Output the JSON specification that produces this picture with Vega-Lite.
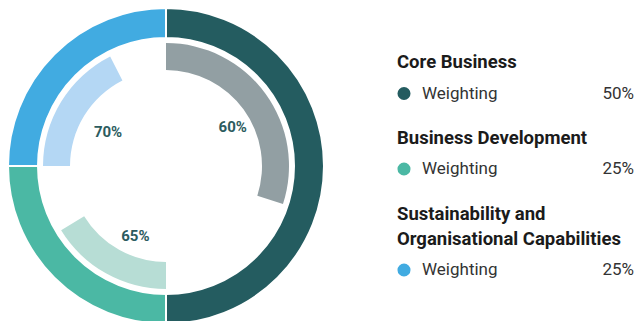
{
  "$schema": "https://vega.github.io/schema/vega-lite/v6.json",
  "padding": 0,
  "spacing": 0,
  "bounds": "flush",
  "config": {"font": "Roboto", "view": {"stroke": null}},
  "datasets": {
    "weights": [
      {"category": "Core Business", "label": "Core Business", "weighting": 0.5, "rank": 1},
      {"category": "Business Development", "label": "Business Development", "weighting": 0.25, "rank": 2},
      {"category": "Sustainability and Organisational Capabilities", "label": "Sustainability and\nOrganisational Capabilities", "weighting": 0.25, "rank": 3}
    ],
    "scores": [
      {"category": "Core Business", "part": "achieved", "share": 0.3, "score": 0.6, "rank": 1},
      {"category": "Core Business", "part": "remaining", "share": 0.2, "score": 0.6, "rank": 2},
      {"category": "Business Development", "part": "achieved", "share": 0.1625, "score": 0.65, "rank": 3},
      {"category": "Business Development", "part": "remaining", "share": 0.0875, "score": 0.65, "rank": 4},
      {"category": "Sustainability and Organisational Capabilities", "part": "achieved", "share": 0.175, "score": 0.7, "rank": 5},
      {"category": "Sustainability and Organisational Capabilities", "part": "remaining", "share": 0.075, "score": 0.7, "rank": 6}
    ]
  },
  "hconcat": [
    {
      "width": 332,
      "height": 332,
      "layer": [
        {
          "data": {"name": "weights"},
          "mark": {"type": "arc", "outerRadius": 158, "innerRadius": 128, "stroke": "#ffffff", "strokeWidth": 2},
          "encoding": {
            "theta": {"field": "weighting", "type": "quantitative", "stack": true},
            "order": {"field": "rank", "type": "quantitative"},
            "color": {"field": "category", "type": "nominal", "legend": null,
              "scale": {"domain": ["Core Business", "Business Development", "Sustainability and Organisational Capabilities"], "range": ["#245C60", "#4BB8A4", "#41ABE1"]}}
          }
        },
        {
          "data": {"name": "scores"},
          "mark": {"type": "arc", "outerRadius": 123, "innerRadius": 96},
          "encoding": {
            "theta": {"field": "share", "type": "quantitative", "stack": true},
            "order": {"field": "rank", "type": "quantitative"},
            "color": {"field": "category", "type": "nominal", "legend": null,
              "scale": {"domain": ["Core Business", "Business Development", "Sustainability and Organisational Capabilities"], "range": ["#929FA3", "#B7DDD5", "#B4D7F4"]}},
            "opacity": {"condition": {"test": "datum.part === 'remaining'", "value": 0}, "value": 1}
          }
        },
        {
          "data": {"name": "scores"},
          "mark": {"type": "text", "radius": 75, "dx": 6, "dy": 5, "fontSize": 15, "fontWeight": "bold", "fill": "#2C5C60"},
          "encoding": {
            "theta": {"field": "share", "type": "quantitative", "stack": true},
            "order": {"field": "rank", "type": "quantitative"},
            "text": {"condition": {"test": "datum.part === 'remaining'", "value": ""}, "field": "score", "type": "quantitative", "format": ".0%"}
          }
        }
      ],
      "resolve": {"scale": {"color": "independent"}}
    },
    {
      "spacing": 0,
      "bounds": "flush",
      "vconcat": [
        {
          "width": 303, "height": 107,
          "data": {"name": "weights"},
          "transform": [{"filter": "datum.rank === 1"}],
          "layer": [
            {"mark": {"type": "text", "align": "left", "baseline": "bottom", "dx": -86.5, "dy": 18, "fontSize": 18.5, "fontWeight": "bold", "fill": "#1b1b1b", "lineBreak": "\n", "lineHeight": 26},
             "encoding": {"text": {"field": "label"}}},
            {"mark": {"type": "point", "shape": "circle", "filled": true, "size": 170, "opacity": 1, "xOffset": -79.5, "yOffset": 40},
             "encoding": {"color": {"field": "category", "type": "nominal", "legend": null,
               "scale": {"domain": ["Core Business", "Business Development", "Sustainability and Organisational Capabilities"], "range": ["#245C60", "#4BB8A4", "#41ABE1"]}}}},
            {"mark": {"type": "text", "align": "left", "baseline": "middle", "dx": -61.5, "dy": 40, "fontSize": 17, "fill": "#333333", "text": "Weighting"},
             "encoding": {}},
            {"mark": {"type": "text", "align": "right", "baseline": "middle", "dx": 150.5, "dy": 40, "fontSize": 17, "fill": "#333333"},
             "encoding": {"text": {"field": "weighting", "type": "quantitative", "format": ".0%"}}}
          ]
        },
        {
          "width": 303, "height": 44,
          "data": {"name": "weights"},
          "transform": [{"filter": "datum.rank === 2"}],
          "layer": [
            {"mark": {"type": "text", "align": "left", "baseline": "bottom", "dx": -86.5, "dy": 19, "fontSize": 18.5, "fontWeight": "bold", "fill": "#1b1b1b", "lineBreak": "\n", "lineHeight": 26},
             "encoding": {"text": {"field": "label"}}},
            {"mark": {"type": "point", "shape": "circle", "filled": true, "size": 170, "opacity": 1, "xOffset": -79.5, "yOffset": 40},
             "encoding": {"color": {"field": "category", "type": "nominal", "legend": null,
               "scale": {"domain": ["Core Business", "Business Development", "Sustainability and Organisational Capabilities"], "range": ["#245C60", "#4BB8A4", "#41ABE1"]}}}},
            {"mark": {"type": "text", "align": "left", "baseline": "middle", "dx": -61.5, "dy": 40, "fontSize": 17, "fill": "#333333", "text": "Weighting"},
             "encoding": {}},
            {"mark": {"type": "text", "align": "right", "baseline": "middle", "dx": 150.5, "dy": 40, "fontSize": 17, "fill": "#333333"},
             "encoding": {"text": {"field": "weighting", "type": "quantitative", "format": ".0%"}}}
          ]
        },
        {
          "width": 303, "height": 158,
          "data": {"name": "weights"},
          "transform": [{"filter": "datum.rank === 3"}],
          "layer": [
            {"mark": {"type": "text", "align": "left", "baseline": "bottom", "dx": -86.5, "dy": -6, "fontSize": 18.5, "fontWeight": "bold", "fill": "#1b1b1b", "lineBreak": "\n", "lineHeight": 25},
             "encoding": {"text": {"field": "label"}}},
            {"mark": {"type": "point", "shape": "circle", "filled": true, "size": 170, "opacity": 1, "xOffset": -79.5, "yOffset": 40},
             "encoding": {"color": {"field": "category", "type": "nominal", "legend": null,
               "scale": {"domain": ["Core Business", "Business Development", "Sustainability and Organisational Capabilities"], "range": ["#245C60", "#4BB8A4", "#41ABE1"]}}}},
            {"mark": {"type": "text", "align": "left", "baseline": "middle", "dx": -61.5, "dy": 40, "fontSize": 17, "fill": "#333333", "text": "Weighting"},
             "encoding": {}},
            {"mark": {"type": "text", "align": "right", "baseline": "middle", "dx": 150.5, "dy": 40, "fontSize": 17, "fill": "#333333"},
             "encoding": {"text": {"field": "weighting", "type": "quantitative", "format": ".0%"}}}
          ]
        }
      ]
    }
  ]
}
